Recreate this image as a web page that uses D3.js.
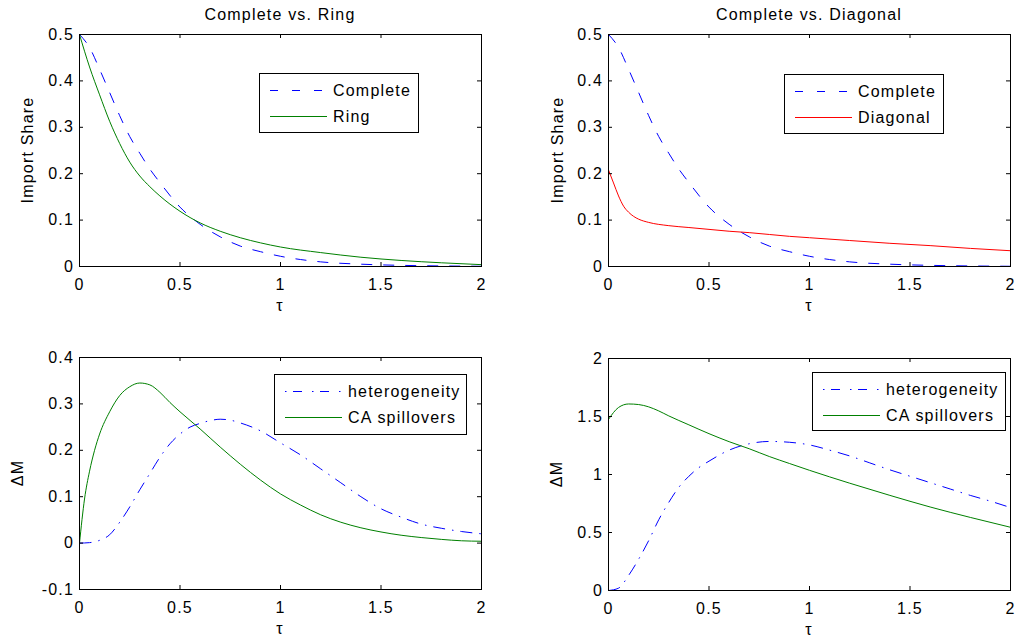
<!DOCTYPE html>
<html><head><meta charset="utf-8">
<script src="https://cdn.jsdelivr.net/npm/d3@7"></script>
<style>
body{margin:0;background:#fff;}
svg{display:block;background:#fff;}
text{font-family:"Liberation Sans",Arial,Helvetica,sans-serif;font-size:16px;letter-spacing:1.2px;fill:#000;}
</style></head><body>
<svg id="chart" width="1018" height="642"></svg>
<script>
// ---------- data ----------
const xTicks = [0, 0.5, 1, 1.5, 2];
const shareTicks = [0, 0.1, 0.2, 0.3, 0.4, 0.5];
const dmTicksA = [-0.1, 0, 0.1, 0.2, 0.3, 0.4];
const dmTicksB = [0, 0.5, 1, 1.5, 2];
const titles = ["Complete vs. Ring", "Complete vs. Diagonal"];
const yLabels = ["Import Share", "Import Share", "\u0394M", "\u0394M"];
const xLabel = "\u03c4";

const tauComplete = [0, 0.05, 0.1, 0.15, 0.2, 0.25, 0.3, 0.35, 0.4, 0.5, 0.6, 0.7, 0.8, 0.9, 1.0, 1.1, 1.2, 1.4, 1.6, 1.8, 2.0];
const complete    = [0.5, 0.472, 0.425, 0.375, 0.325, 0.28, 0.244, 0.21, 0.181, 0.128, 0.091, 0.064, 0.044, 0.032, 0.022, 0.015, 0.010, 0.005, 0.0025, 0.0012, 0.0005];

const tauRing = [0, 0.05, 0.1, 0.15, 0.2, 0.25, 0.3, 0.35, 0.4, 0.5, 0.6, 0.7, 0.8, 0.9, 1.0, 1.2, 1.4, 1.6, 1.8, 2.0];
const ring    = [0.5, 0.43, 0.37, 0.313, 0.265, 0.225, 0.195, 0.172, 0.152, 0.119, 0.094, 0.076, 0.062, 0.051, 0.042, 0.030, 0.020, 0.013, 0.008, 0.004];

const tauDiag = [0, 0.025, 0.05, 0.075, 0.1, 0.125, 0.15, 0.2, 0.3, 0.4, 0.5, 0.6, 0.7, 0.8, 0.9, 1.0, 1.2, 1.4, 1.6, 1.8, 2.0];
const diagonal = [0.208, 0.18, 0.152, 0.13, 0.117, 0.108, 0.102, 0.095, 0.088, 0.084, 0.080, 0.076, 0.073, 0.069, 0.065, 0.062, 0.056, 0.050, 0.045, 0.039, 0.034];

const tauHetA = [0, 0.05, 0.1, 0.15, 0.2, 0.25, 0.3, 0.35, 0.4, 0.45, 0.5, 0.55, 0.6, 0.65, 0.7, 0.75, 0.8, 0.9, 1.0, 1.1, 1.2, 1.3, 1.4, 1.5, 1.6, 1.7, 1.8, 1.9, 2.0];
const hetA    = [0, 0.001, 0.006, 0.018, 0.045, 0.078, 0.115, 0.15, 0.185, 0.214, 0.235, 0.25, 0.258, 0.264, 0.267, 0.265, 0.259, 0.242, 0.216, 0.19, 0.16, 0.13, 0.1, 0.074, 0.056, 0.041, 0.032, 0.025, 0.02];

const tauCaA = [0, 0.025, 0.05, 0.075, 0.1, 0.15, 0.2, 0.25, 0.3, 0.35, 0.4, 0.45, 0.5, 0.6, 0.7, 0.8, 0.9, 1.0, 1.1, 1.2, 1.3, 1.4, 1.5, 1.6, 1.7, 1.8, 1.9, 2.0];
const caA    = [0, 0.095, 0.155, 0.2, 0.235, 0.283, 0.318, 0.337, 0.345, 0.341, 0.325, 0.303, 0.283, 0.246, 0.207, 0.170, 0.136, 0.106, 0.082, 0.061, 0.045, 0.033, 0.024, 0.017, 0.012, 0.008, 0.005, 0.004];

const tauHetB = [0, 0.05, 0.1, 0.15, 0.2, 0.25, 0.3, 0.35, 0.4, 0.45, 0.5, 0.6, 0.7, 0.8, 0.9, 1.0, 1.1, 1.2, 1.3, 1.4, 1.5, 1.6, 1.7, 1.8, 1.9, 2.0];
const hetB    = [0, 0.02, 0.13, 0.27, 0.43, 0.61, 0.76, 0.89, 0.985, 1.06, 1.115, 1.21, 1.265, 1.285, 1.278, 1.255, 1.21, 1.16, 1.10, 1.04, 0.985, 0.93, 0.875, 0.82, 0.77, 0.715];

const tauCaB = [0, 0.05, 0.1, 0.15, 0.2, 0.25, 0.3, 0.4, 0.5, 0.6, 0.7, 0.8, 0.9, 1.0, 1.2, 1.4, 1.6, 1.8, 2.0];
const caB    = [1.475, 1.578, 1.608, 1.603, 1.583, 1.548, 1.505, 1.428, 1.352, 1.283, 1.222, 1.155, 1.095, 1.036, 0.925, 0.82, 0.72, 0.63, 0.545];

// ---------- layout ----------
const BLUE = "#0000ff", GREEN = "#008000", RED = "#ff0000";
const DASH = "11,11", DASHDOT = "12,7,1.5,7";
const LDASH = "8,14", LDASHDOT = "1.5,6.5,9,10";

const zip = (t, v) => t.map((d, i) => ({t: d, v: v[i]}));

const panels = [
  {x: 79, y: 34, ydom: [0, 0.5], yticks: shareTicks, title: titles[0], ylab: yLabels[0], ylabX: 27.5,
   legend: {x: 259, y: 73, w: 159, h: 59},
   series: [
     {data: zip(tauComplete, complete), color: BLUE, dash: DASH, ldash: LDASH, name: "Complete"},
     {data: zip(tauRing, ring), color: GREEN, dash: null, name: "Ring"}]},
  {x: 608, y: 34, ydom: [0, 0.5], yticks: shareTicks, title: titles[1], ylab: yLabels[1], ylabX: 557.5,
   legend: {x: 784, y: 74, w: 159, h: 59},
   series: [
     {data: zip(tauComplete, complete), color: BLUE, dash: DASH, ldash: LDASH, name: "Complete"},
     {data: zip(tauDiag, diagonal), color: RED, dash: null, name: "Diagonal"}]},
  {x: 79, y: 357, ydom: [-0.1, 0.4], yticks: dmTicksA, title: null, ylab: yLabels[2], ylabX: 17,
   legend: {x: 274, y: 374, w: 192, h: 60},
   series: [
     {data: zip(tauHetA, hetA), color: BLUE, dash: DASHDOT, ldash: LDASHDOT, name: "heterogeneity"},
     {data: zip(tauCaA, caA), color: GREEN, dash: null, name: "CA spillovers"}]},
  {x: 608, y: 358, ydom: [0, 2], yticks: dmTicksB, title: null, ylab: yLabels[3], ylabX: 556.5,
   legend: {x: 812, y: 372, w: 193, h: 58},
   series: [
     {data: zip(tauHetB, hetB), color: BLUE, dash: DASHDOT, ldash: LDASHDOT, name: "heterogeneity"},
     {data: zip(tauCaB, caB), color: GREEN, dash: null, name: "CA spillovers"}]}
];

const W = 402, H = 232;
const svg = d3.select("#chart");
const fmt = d => (d < 0 ? "-" : "") + String(Math.abs(+d.toFixed(2)));

panels.forEach((p, pi) => {
  const x = d3.scaleLinear().domain([0, 2]).range([0, W]);
  const y = d3.scaleLinear().domain(p.ydom).range([H, 0]);
  const g = svg.append("g").attr("transform", `translate(${p.x},${p.y})`);

  const clipId = "clip" + pi;
  g.append("clipPath").attr("id", clipId).append("rect")
    .attr("x", 0).attr("y", -1).attr("width", W + 1).attr("height", H + 2);

  const line = d3.line().x(d => x(d.t) + 0.5).y(d => y(d.v) + 0.5).curve(d3.curveMonotoneX);
  const plot = g.append("g").attr("clip-path", `url(#${clipId})`);
  p.series.forEach(s => {
    plot.append("path").datum(s.data).attr("d", line)
      .style("fill", "none").style("stroke", s.color).style("stroke-width", 1)
      .style("stroke-dasharray", s.dash || "none");
  });

  // axes (ticks inward on all four sides)
  const bottom = g.append("g").attr("transform", `translate(0,${H})`)
    .call(d3.axisBottom(x).tickValues(xTicks).tickFormat(fmt).tickSizeInner(-4).tickSizeOuter(0).tickPadding(12.5));
  const top = g.append("g")
    .call(d3.axisTop(x).tickValues(xTicks).tickFormat("").tickSizeInner(-4).tickSizeOuter(0));
  const left = g.append("g")
    .call(d3.axisLeft(y).tickValues(p.yticks).tickFormat(fmt).tickSizeInner(-4).tickSizeOuter(0).tickPadding(5));
  const right = g.append("g").attr("transform", `translate(${W},0)`)
    .call(d3.axisRight(y).tickValues(p.yticks).tickFormat("").tickSizeInner(-4).tickSizeOuter(0));
  [bottom, top, left, right].forEach(a => {
    a.select(".domain").remove();
    a.selectAll("line").attr("stroke", "#000");
    a.selectAll("text").attr("font-family", null).attr("font-size", null).style("fill", "#000");
  });
  g.append("rect").attr("x", 0.5).attr("y", 0.5).attr("width", W).attr("height", H)
    .attr("fill", "none").attr("stroke", "#000").attr("stroke-width", 1);

  // title & labels
  if (p.title) {
    svg.append("text").attr("x", p.x + W / 2).attr("y", p.y - 14)
      .attr("text-anchor", "middle").text(p.title);
  }
  svg.append("text").attr("x", p.x + W / 2).attr("y", p.y + H + 45)
    .attr("text-anchor", "middle").text(xLabel);
  svg.append("text")
    .attr("transform", `translate(${p.ylabX},${p.y + H / 2}) rotate(-90)`)
    .attr("text-anchor", "middle").attr("dy", "0.35em").text(p.ylab);

  // legend
  const L = p.legend;
  const lg = svg.append("g").attr("transform", `translate(${L.x},${L.y})`);
  lg.append("rect").attr("x", 0.5).attr("y", 0.5).attr("width", L.w).attr("height", L.h)
    .style("fill", "#fff").style("stroke", "#000").style("stroke-width", 1);
  const rows = [17.5, 43.5];
  p.series.forEach((s, i) => {
    lg.append("line").attr("x1", 11).attr("x2", 68).attr("y1", rows[i]).attr("y2", rows[i])
      .style("stroke", s.color).style("stroke-width", 1)
      .style("stroke-dasharray", s.ldash || "none");
    lg.append("text").attr("x", 74).attr("y", rows[i]).attr("dy", "0.35em").text(s.name);
  });
});
</script>
</body></html>
